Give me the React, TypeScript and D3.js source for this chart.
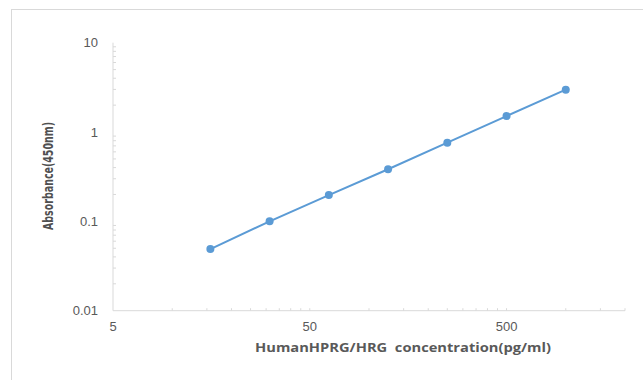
import React from "react";
import * as d3 from "d3";

const concentrations = [15.625, 31.25, 62.5, 125, 250, 500, 1000];
const absorbance = [0.049, 0.1, 0.197, 0.383, 0.76, 1.51, 2.98];
const xTickValues = [5, 50, 500];
const xTickLabels = ["5", "50", "500"];
const yTickValues = [0.01, 0.1, 1, 10];
const yTickLabels = ["0.01", "0.1", "1", "10"];
const xTitle = "HumanHPRG/HRG  concentration(pg/ml)";
const yTitle = "Absorbance(450nm)";

const W = 643;
const H = 380;

export default function App() {
  const x = d3.scaleLog().domain([5, 2000]).range([113, 625]);
  const y = d3.scaleLog().domain([0.01, 10]).range([310.7, 42.7]);

  const xMinor: number[] = [];
  [5, 50, 500].forEach((d) => {
    for (let k = 1; k <= 9; k++) {
      const v = d * k;
      if (v <= 2000 && v > 5) xMinor.push(v);
    }
  });
  const yMinor: number[] = [];
  [0.01, 0.1, 1].forEach((d) => {
    for (let k = 2; k <= 9; k++) yMinor.push(d * k);
  });

  const pts = concentrations.map((c, i) => [x(c), y(absorbance[i])] as [number, number]);
  const line = d3.line()(pts) || "";

  const grey = "#d9d9d9";
  const textCol = "#595959";

  return (
    <svg
      width={W}
      height={H}
      style={{ position: "absolute", left: 0, top: 0, background: "#fff" }}
    >
      <rect x={0} y={0} width={W} height={H} fill="#fff" />
      <rect x={11.5} y={9.5} width={W + 20} height={H + 20} fill="none" stroke={grey} strokeWidth={1} />
      <line x1={x(5)} x2={x(5)} y1={y(10)} y2={y(0.01)} stroke={grey} strokeWidth={1} />
      <line x1={x(5)} x2={x(2000)} y1={y(0.01)} y2={y(0.01)} stroke={grey} strokeWidth={1} />
      {yMinor.map((v, i) => (
        <line key={"ym" + i} x1={x(5)} x2={x(5) + 3} y1={y(v)} y2={y(v)} stroke={grey} strokeWidth={1} />
      ))}
      {xMinor.map((v, i) => (
        <line key={"xm" + i} x1={x(v)} x2={x(v)} y1={y(0.01)} y2={y(0.01) - 2.5} stroke={grey} strokeWidth={1} />
      ))}
      {yTickValues.map((v, i) => (
        <text
          key={"yl" + i}
          x={98}
          y={y(v)}
          textAnchor="end"
          dominantBaseline="central"
          fontFamily="Liberation Sans, Arial, sans-serif"
          fontSize={13}
          fill={textCol}
        >
          {yTickLabels[i]}
        </text>
      ))}
      {xTickValues.map((v, i) => (
        <text
          key={"xl" + i}
          x={x(v)}
          y={326}
          textAnchor="middle"
          dominantBaseline="central"
          fontFamily="Liberation Sans, Arial, sans-serif"
          fontSize={13}
          fill={textCol}
        >
          {xTickLabels[i]}
        </text>
      ))}
      <text
        x={403}
        y={347}
        textAnchor="middle"
        dominantBaseline="central"
        fontFamily="Open Sans, Liberation Sans, Arial, sans-serif"
        fontWeight="bold"
        fontSize={12}
        fill={textCol}
        textLength={296}
        lengthAdjust="spacingAndGlyphs"
        style={{ whiteSpace: "pre" }}
      >
        {xTitle}
      </text>
      <text
        transform="translate(48,176) rotate(-90)"
        textAnchor="middle"
        dominantBaseline="central"
        fontFamily="Liberation Sans Narrow, DejaVu Sans Condensed, Arial, sans-serif"
        fontWeight="bold"
        fontSize={14}
        fill="#505050"
        textLength={108}
        lengthAdjust="spacingAndGlyphs"
      >
        {yTitle}
      </text>
      <path d={line} fill="none" stroke="#5B9BD5" strokeWidth={2} />
      {pts.map((p, i) => (
        <circle key={"p" + i} cx={p[0]} cy={p[1]} r={4} fill="#5B9BD5" />
      ))}
    </svg>
  );
}
